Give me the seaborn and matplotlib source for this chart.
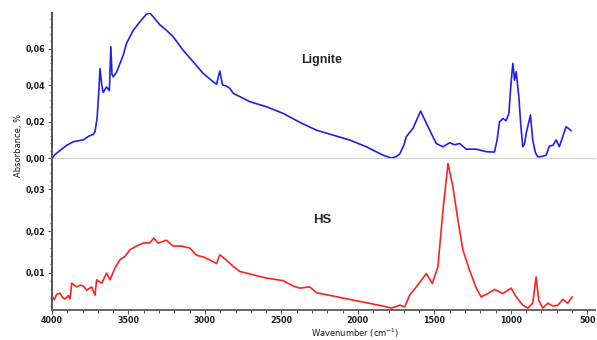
import matplotlib
matplotlib.use("Agg")
import matplotlib.pyplot as plt
import seaborn as sns
import pandas as pd
from matplotlib.ticker import FuncFormatter, MultipleLocator

# Lignite spectrum (wavenumber, absorbance)
lignite_wn = [4000, 3980, 3950, 3904, 3860, 3795, 3760, 3730, 3719, 3705, 3695, 3686, 3675, 3665,
              3643, 3625, 3615, 3608, 3600, 3578, 3534, 3512, 3469, 3425, 3382, 3360, 3338, 3295,
              3251, 3208, 3142, 3077, 3012, 2946, 2924, 2903, 2885, 2860, 2837, 2815, 2706, 2597,
              2489, 2380, 2271, 2163, 2054, 1945, 1836, 1781, 1750, 1727, 1700, 1684, 1640, 1590,
              1542, 1488, 1444, 1400, 1368, 1335, 1292, 1226, 1161, 1107, 1090, 1074, 1052, 1031,
              1013, 1000, 987, 976, 965, 948, 935, 922, 910, 900, 872, 857, 840, 824, 790, 769,
              748, 725, 704, 683, 660, 639, 620, 606]
lignite_abs = [0.000, 0.002, 0.004, 0.007, 0.009, 0.010, 0.012, 0.013, 0.0144, 0.022, 0.035, 0.049,
               0.040, 0.036, 0.039, 0.037, 0.061, 0.046, 0.0445, 0.047, 0.0565, 0.063, 0.070, 0.0747,
               0.0789, 0.0795, 0.0774, 0.073, 0.070, 0.0665, 0.059, 0.0528, 0.0464, 0.0418, 0.0405,
               0.0477, 0.040, 0.0395, 0.0382, 0.0355, 0.0309, 0.0281, 0.0245, 0.0196, 0.0153, 0.0126,
               0.0099, 0.0062, 0.0016, 0.0000, 0.0008, 0.0022, 0.007, 0.0117, 0.0163, 0.0258, 0.0172,
               0.008, 0.0062, 0.0084, 0.0073, 0.0080, 0.0049, 0.0049, 0.0035, 0.0033, 0.010, 0.0199,
               0.0217, 0.0205, 0.0245, 0.040, 0.0519, 0.0427, 0.0473, 0.0336, 0.018, 0.0062, 0.008,
               0.0135, 0.0236, 0.0099, 0.003, 0.0007, 0.001, 0.0016, 0.0066, 0.007, 0.0099, 0.0062,
               0.012, 0.0172, 0.016, 0.015]

# HS spectrum
hs_wn = [3996, 3985, 3970, 3948, 3930, 3915, 3893, 3882, 3871, 3839, 3815, 3795, 3773, 3741, 3719,
         3708, 3690, 3675, 3643, 3621, 3589, 3556, 3523, 3491, 3447, 3404, 3360, 3334, 3306, 3251,
         3208, 3153, 3099, 3056, 3012, 2969, 2924, 2903, 2859, 2815, 2772, 2685, 2597, 2489, 2423,
         2380, 2315, 2271, 2163, 2054, 1945, 1836, 1781, 1727, 1694, 1662, 1618, 1553, 1514, 1477,
         1444, 1411, 1379, 1346, 1314, 1270, 1226, 1194, 1150, 1107, 1052, 998, 965, 922, 889, 857,
         835, 818, 791, 759, 726, 693, 661, 628, 599]
hs_abs = [0.0042, 0.0035, 0.0048, 0.0051, 0.0040, 0.0037, 0.0045, 0.0037, 0.0075, 0.0066, 0.0070,
          0.0068, 0.0058, 0.0066, 0.0046, 0.0083, 0.0078, 0.0075, 0.0099, 0.0083, 0.0111, 0.0131,
          0.0139, 0.0155, 0.0164, 0.0171, 0.0172, 0.0183, 0.0171, 0.0178, 0.0164, 0.0164, 0.0159,
          0.0142, 0.0138, 0.0131, 0.0122, 0.0143, 0.0130, 0.0115, 0.0103, 0.0095, 0.0087, 0.0081,
          0.0068, 0.0063, 0.0066, 0.0052, 0.0044, 0.0036, 0.0028, 0.0020, 0.0015, 0.0022, 0.0018,
          0.0046, 0.0066, 0.0098, 0.0074, 0.0114, 0.0250, 0.0362, 0.0306, 0.0226, 0.0155, 0.0106,
          0.0063, 0.0042, 0.0050, 0.0060, 0.0050, 0.0063, 0.0042, 0.0022, 0.0015, 0.0027, 0.0090,
          0.0034, 0.0015, 0.0027, 0.0020, 0.0022, 0.0036, 0.0027, 0.0042]

top_yticks = [0.00, 0.02, 0.04, 0.06]
bot_yticks = [0.01, 0.02, 0.03]
xticks = [4000, 3500, 3000, 2500, 2000, 1500, 1000, 500]

sns.set_style("ticks")
plt.rcParams['font.family'] = ['DejaVu Sans']

fig = plt.figure(figsize=(5.97, 3.40), dpi=100)
L, R = 52 / 597, 595 / 597
mid = 1 - 159 / 340
ax1 = fig.add_axes([L, mid, R - L, (1 - 13 / 340) - mid])
ax2 = fig.add_axes([L, 1 - 310 / 340, R - L, mid - (1 - 310 / 340)], sharex=ax1)

df1 = pd.DataFrame({"wn": lignite_wn, "abs": lignite_abs})
df2 = pd.DataFrame({"wn": hs_wn, "abs": hs_abs})
sns.lineplot(data=df1, x="wn", y="abs", ax=ax1, color="#1f1ff0", lw=1.2)
sns.lineplot(data=df2, x="wn", y="abs", ax=ax2, color="#ff2020", lw=1.2)

ax1.set_xlim(4000, 450)
ax1.set_ylim(-0.0005, 0.0795)
ax2.set_ylim(0.00105, 0.0373)

fmt = FuncFormatter(lambda v, p: f"{v:.2f}".replace('.', ','))
for ax in (ax1, ax2):
    ax.yaxis.set_major_formatter(fmt)
    ax.set_xlabel("")
    ax.set_ylabel("")
    for s in ("top", "right"):
        ax.spines[s].set_visible(False)
    ax.spines["left"].set_color("#555555")
    ax.spines["left"].set_linewidth(1.4)
    ax.tick_params(axis="both", which="major", labelsize=5.8, length=3, width=0.8,
                   color="#555555", labelcolor="#1a1a1a", pad=1.5)
    ax.tick_params(axis="both", which="minor", length=1.8, width=0.8, color="#555555")
    for t in ax.get_yticklabels() + ax.get_xticklabels():
        t.set_fontweight("bold")

ax1.set_yticks(top_yticks)
ax1.yaxis.set_minor_locator(MultipleLocator(0.004))
ax2.set_yticks(bot_yticks)
ax2.yaxis.set_minor_locator(MultipleLocator(0.002))
ax1.spines["bottom"].set_color("#c4ccc4")
ax1.spines["bottom"].set_linewidth(1.2)
ax1.tick_params(axis="x", which="both", bottom=False, labelbottom=False)
ax2.set_xticks(xticks)
ax2.xaxis.set_minor_locator(MultipleLocator(100))
ax2.spines["bottom"].set_color("#666666")
ax2.spines["bottom"].set_linewidth(1.4)
for t in ax1.get_yticklabels() + ax2.get_yticklabels() + ax2.get_xticklabels():
    t.set_fontweight("bold")

fig.text(322 / 597, 1 - 60 / 340, "Lignite", ha="center", va="center", fontsize=9,
         fontweight="bold", family=["Liberation Sans"])
fig.text(322 / 597, 1 - 220 / 340, "HS", ha="center", va="center", fontsize=9.5,
         fontweight="bold", family=["Liberation Sans"])
fig.text(355 / 597, 1 - 333 / 340, "Wavenumber (cm$^{-1}$)", ha="center", va="center",
         fontsize=6, color="#1a1a1a")
fig.text(18 / 597, 1 - 145 / 340, "Absorbance, %", ha="center", va="center", rotation=90,
         fontsize=6, color="#1a1a1a")

fig.savefig("out.png", dpi=100, facecolor="white")
